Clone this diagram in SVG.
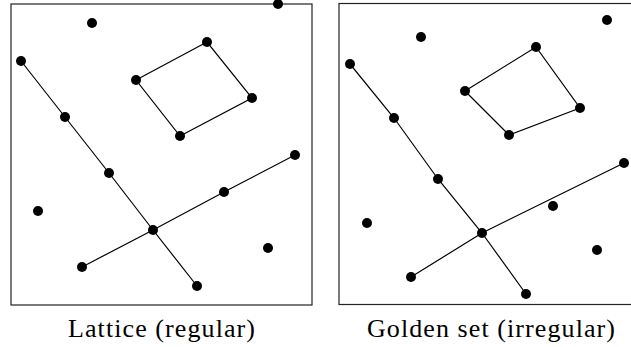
<svg xmlns="http://www.w3.org/2000/svg" width="631" height="347" viewBox="0 0 631 347">
<style>
.frame{fill:none;stroke:#222;stroke-width:1.2}
.ln{fill:none;stroke:#000;stroke-width:1.2}
.pt{fill:#000}
.lbl{font-family:"Liberation Serif","Times New Roman",serif;font-size:26px;fill:#000;text-anchor:middle}
</style>
<rect width="631" height="347" fill="#fff"/>
<g id="lattice">
<rect class="frame" x="11" y="4" width="301" height="301"/>
<g id="lattice-connectors">
<polyline class="ln" points="21,61 65,117 109,173 153,230 197,286"/>
<polyline class="ln" points="82,267 153,230 224,192 295,155"/>
<polygon class="ln" points="136,80 207,42 252,98 180,136"/>
</g>
<g id="lattice-points">
<circle class="pt" cx="278" cy="4" r="5"/>
<circle class="pt" cx="92" cy="23" r="5"/>
<circle class="pt" cx="21" cy="61" r="5"/>
<circle class="pt" cx="207" cy="42" r="5"/>
<circle class="pt" cx="136" cy="80" r="5"/>
<circle class="pt" cx="252" cy="98" r="5"/>
<circle class="pt" cx="180" cy="136" r="5"/>
<circle class="pt" cx="65" cy="117" r="5"/>
<circle class="pt" cx="109" cy="173" r="5"/>
<circle class="pt" cx="295" cy="155" r="5"/>
<circle class="pt" cx="224" cy="192" r="5"/>
<circle class="pt" cx="38" cy="211" r="5"/>
<circle class="pt" cx="153" cy="230" r="5"/>
<circle class="pt" cx="268" cy="248" r="5"/>
<circle class="pt" cx="82" cy="267" r="5"/>
<circle class="pt" cx="197" cy="286" r="5"/>
</g>
<text class="lbl" x="161.5" y="337" textLength="187" lengthAdjust="spacing">Lattice (regular)</text>
</g>
<g id="golden">
<rect class="frame" x="339" y="3.5" width="301" height="301"/>
<g id="golden-connectors">
<polyline class="ln" points="350,64 394,118 438,179 482,233 526,294"/>
<polyline class="ln" points="411,277 482,233 624,163"/>
<polygon class="ln" points="465,91 536,47 580,108 509,135"/>
</g>
<g id="golden-points">
<circle class="pt" cx="607" cy="20" r="5"/>
<circle class="pt" cx="421" cy="37" r="5"/>
<circle class="pt" cx="350" cy="64" r="5"/>
<circle class="pt" cx="536" cy="47" r="5"/>
<circle class="pt" cx="465" cy="91" r="5"/>
<circle class="pt" cx="580" cy="108" r="5"/>
<circle class="pt" cx="509" cy="135" r="5"/>
<circle class="pt" cx="394" cy="118" r="5"/>
<circle class="pt" cx="438" cy="179" r="5"/>
<circle class="pt" cx="624" cy="163" r="5"/>
<circle class="pt" cx="553" cy="206" r="5"/>
<circle class="pt" cx="367" cy="223" r="5"/>
<circle class="pt" cx="482" cy="233" r="5"/>
<circle class="pt" cx="597" cy="250" r="5"/>
<circle class="pt" cx="411" cy="277" r="5"/>
<circle class="pt" cx="526" cy="294" r="5"/>
</g>
<text class="lbl" x="491" y="337" textLength="248" lengthAdjust="spacing">Golden set (irregular)</text>
</g>
</svg>
